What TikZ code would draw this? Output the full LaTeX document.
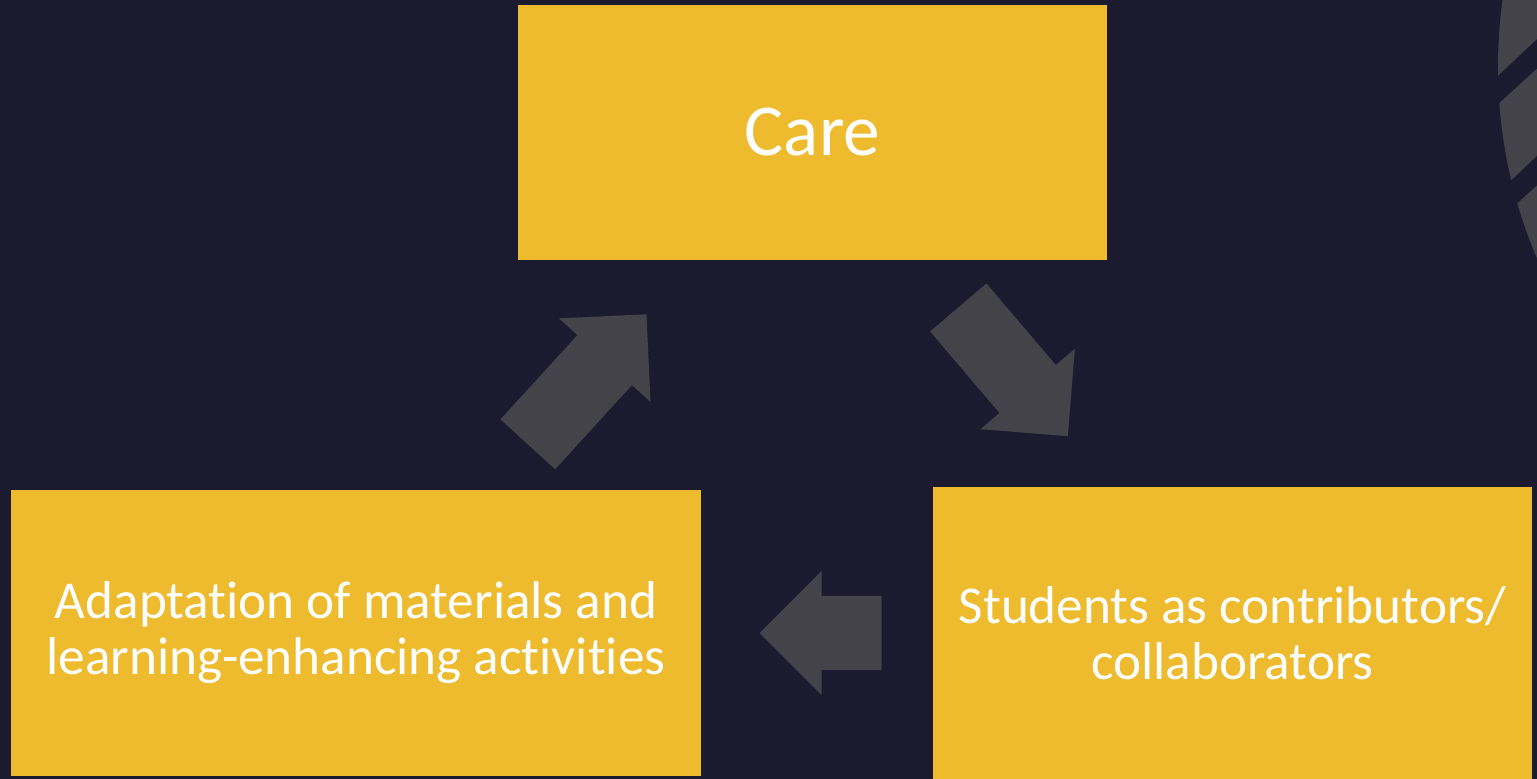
\documentclass[tikz,border=0pt]{standalone}
\usepackage{fontspec}
\setmainfont{Carlito}[Ligatures=NoCommon]
\usetikzlibrary{positioning}

\definecolor{bgnavy}{HTML}{1C1A2E}
\definecolor{boxgold}{HTML}{EDBB2D}
\definecolor{arrowgrey}{HTML}{444349}

\tikzset{
 pics/blockarrow/.style={code={
  \fill[arrowgrey] (0,-37)--(#1-62,-37)--(#1-62,-62)--(#1,0)--(#1-62,62)--(#1-62,37)--(0,37)--cycle;}}
}

\begin{document}
\begin{tikzpicture}[x=0.5pt,y=-0.5pt,
 every node/.style={text=white,inner sep=0pt},
 box/.style={fill=boxgold,align=center,font=\fontsize{26.6}{28}\selectfont}]
\fill[bgnavy] (0,0) rectangle (1537,779);
\useasboundingbox (0,0) rectangle (1537,779);
% logo edge on the right
\begin{scope}
\clip (0,0) rectangle (1537,779);
\fill[arrowgrey] (1985,67) circle[radius=487];
\fill[bgnavy] (1490,83.4)--(1560,17.6)--(1560,47.2)--(1490,111.5)--cycle;
\fill[bgnavy] (1490,200.6)--(1560,134.1)--(1560,163.9)--(1490,228.5)--cycle;
\end{scope}
\node[box,minimum width=294.5pt,minimum height=127.5pt,font=\fontsize{36.6}{40}\selectfont] (care) at (812.5,132.5) {Care};
\node[box,minimum width=345pt,minimum height=143pt] (adapt) at (356,633) {Adaptation of materials and\\learning-enhancing activities};
\node[box,minimum width=299.5pt,minimum height=146pt] (stud) at (1232.5,633) {Students as contributors/\\collaborators};
% cycle arrows
\pic[rotate=47.6] (tocare) at (527.8,444.3) {blockarrow=176};
\pic[rotate=-49.6] (tostud) at (958.3,307.5) {blockarrow=169};
\pic[rotate=180] (toadapt) at (881.7,633) {blockarrow=122};
\end{tikzpicture}
\end{document}
